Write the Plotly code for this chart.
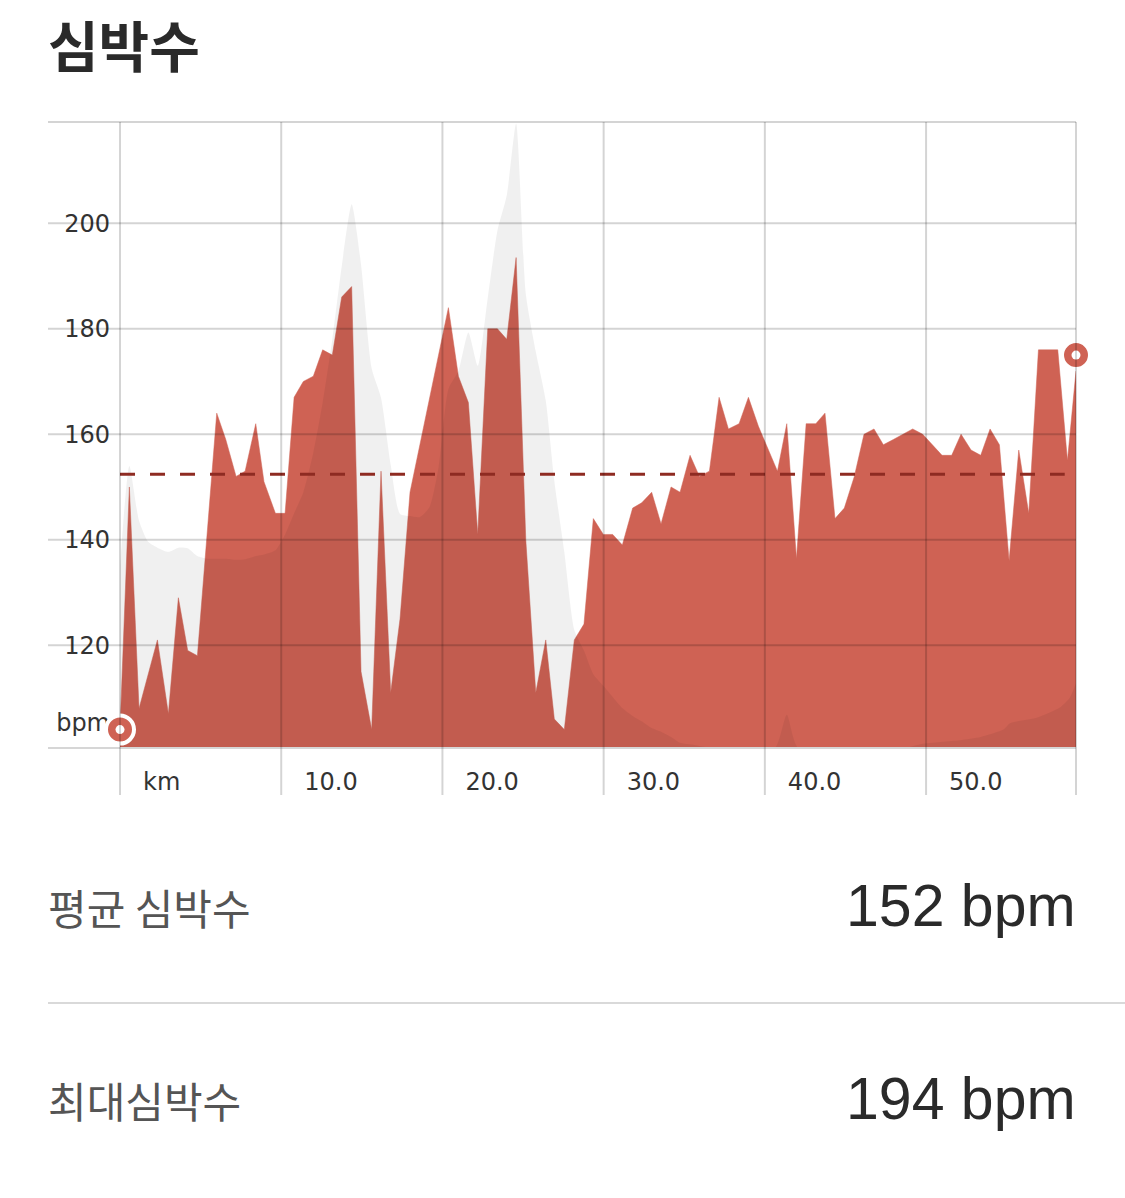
import plotly.graph_objects as go

# ---------------- data ----------------
hr_km = [0.0, 0.58, 1.18, 2.32, 3.0, 3.62, 4.2, 4.8, 6.0, 6.56, 7.2, 7.76, 8.42, 8.93,
         9.64, 10.24, 10.8, 11.37, 11.99, 12.57, 13.17, 13.75, 14.37, 14.95, 15.61, 16.19,
         16.79, 17.37, 17.99, 20.37, 20.99, 21.61, 22.19, 22.81, 23.41, 23.99, 24.57, 25.17,
         25.79, 26.41, 26.94, 27.56, 28.18, 28.78, 29.36, 29.98, 30.56, 31.16, 31.8, 32.36,
         32.98, 33.56, 34.18, 34.74, 35.36, 35.94, 36.56, 37.16, 37.74, 38.4, 38.98, 39.6,
         40.78, 41.36, 41.96, 42.56, 43.16, 43.73, 44.35, 44.93, 45.55, 46.15, 46.77, 47.35,
         47.97, 48.59, 49.17, 49.79, 50.39, 50.99, 51.59, 52.17, 52.79, 53.39, 53.97, 54.55,
         55.15, 55.75, 56.37, 56.97, 58.17, 58.77, 59.3]
hr_bpm = [104, 150, 108, 121, 107, 129, 119, 118, 164, 159, 152, 153, 162, 151,
          145, 145, 167, 170, 171, 176, 175, 186, 188, 115, 104, 153,
          111, 125, 149, 184, 171, 166, 141, 180, 180, 178, 193.5, 140,
          111, 121, 106, 104, 121, 124, 144, 141, 141, 139, 146, 147,
          149, 143, 150, 149, 156, 152, 153, 167, 161, 162, 167, 161.5,
          153, 162, 136.4, 162, 162, 164, 144, 146, 152, 160, 161, 158,
          159, 160, 161, 160, 158, 156, 156, 160, 157, 156, 161, 158,
          136, 157, 145, 176, 176, 155, 172]

elev_km = [0.0, 0.58, 1.18, 1.75, 2.32, 3.0, 3.62, 4.2, 4.8, 5.4, 6.0, 6.56, 7.2, 7.76,
           8.42, 8.93, 9.64, 10.24, 10.8, 11.37, 11.99, 12.57, 13.17, 13.75, 14.37, 14.95,
           15.61, 16.19, 16.79, 17.37, 17.99, 18.6, 19.2, 19.76, 20.37, 20.99, 21.61, 22.19,
           22.81, 23.41, 23.99, 24.57, 25.17, 25.79, 26.41, 26.94, 27.56, 28.18, 28.78,
           29.36, 29.98, 30.56, 31.16, 31.8, 32.36, 32.98, 33.56, 34.18, 34.74, 35.36,
           35.94, 36.56, 37.5, 40.6, 41.36, 42.1, 48.6, 49.79, 50.99, 52.1, 53.39, 54.8,
           55.2, 56.9, 58.3, 58.9, 59.3]
elev_level = [135, 154, 143.6, 139.6, 138.5, 137.7, 138.5, 138.4, 136.9, 136.4, 136.4, 136.4, 136.2, 136.3,
              136.9, 137.2, 138.0, 141.0, 145, 149, 156.5, 166, 178, 191.8, 203.6, 192.2,
              172.5, 166.9, 154.2, 144.9, 144.5, 144.3, 146.2, 153.8, 168.6, 172, 179.3, 173,
              185.9, 198.6, 205.3, 218.9, 186.7, 175.7, 166.4, 151.2, 137.7, 122.9, 119,
              114.5, 112.3, 110.2, 108.1, 106.6, 105.6, 104.3, 103.6, 102.6, 101.5, 101.2,
              100.9, 100.6, 100.4, 100.4, 106.8, 100.4, 100.5, 101.3, 101.7, 102.0, 102.6, 104.0,
              105.2, 106.3, 108.2, 110.0, 112.8]

avg_line_bpm = 152.4
avg_line_km = [0, 58.6]

marker_km = [0, 59.3]
marker_bpm = [104, 175]

x_ticks = [0, 10, 20, 30, 40, 50]
x_ticklabels = ["km", "10.0", "20.0", "30.0", "40.0", "50.0"]
x_grid = [0, 10, 20, 30, 40, 50]
y_ticks = [105.4, 120, 140, 160, 180, 200]
y_ticklabels = ["bpm", "120", "140", "160", "180", "200"]
y_grid = [120, 140, 160, 180, 200]

title_text = "심박수"
summary_labels = ["평균 심박수", "최대심박수"]
summary_values = [152, 194]

# ---------------- figure ----------------
X_RANGE = [-4.467, 59.3]
Y_RANGE = [100.7, 219.2]
RED = "#cf6254"
GRID = "rgba(0,0,0,0.17)"

fig = go.Figure()

fig.add_trace(go.Scatter(x=hr_km, y=hr_bpm, mode="lines", fill="tozeroy",
                         fillcolor=RED, line=dict(color=RED, width=0.5),
                         hoverinfo="skip", showlegend=False))
fig.add_trace(go.Scatter(x=elev_km, y=elev_level, mode="lines", fill="tozeroy",
                         fillcolor="rgba(0,0,0,0.06)", line=dict(width=0, shape="spline", smoothing=0.6),
                         hoverinfo="skip", showlegend=False))
fig.add_trace(go.Scatter(x=avg_line_km, y=[avg_line_bpm] * len(avg_line_km), mode="lines",
                         line=dict(color="#8e2b22", width=3, dash="15px,15px"),
                         hoverinfo="skip", showlegend=False))
fig.add_trace(go.Scatter(x=marker_km, y=marker_bpm, mode="markers", cliponaxis=False,
                         marker=dict(size=28, color=RED, line=dict(color="white", width=4)),
                         hoverinfo="skip", showlegend=False))
fig.add_trace(go.Scatter(x=marker_km, y=marker_bpm, mode="markers", cliponaxis=False,
                         marker=dict(size=9, color="white", line=dict(width=0)),
                         hoverinfo="skip", showlegend=False))

shapes = []
for g in y_grid:
    shapes.append(dict(type="line", xref="paper", yref="y", x0=0, x1=1, y0=g, y1=g,
                       line=dict(color=GRID, width=2), layer="above"))
shapes.append(dict(type="line", xref="paper", yref="paper", x0=0, x1=1, y0=1, y1=1,
                   line=dict(color=GRID, width=2), layer="above"))
for g in x_grid:
    shapes.append(dict(type="line", xref="x", yref="paper", x0=g, x1=g, y0=-0.0768, y1=1,
                       line=dict(color=GRID, width=2), layer="above"))
shapes.append(dict(type="line", xref="paper", yref="paper", x0=1, x1=1, y0=-0.0768, y1=1,
                   line=dict(color=GRID, width=2), layer="above"))
# separator between summary rows
shapes.append(dict(type="line", xref="paper", yref="paper", x0=0, x1=1.0477,
                   y0=-0.4096, y1=-0.4096, line=dict(color="#d9d9d9", width=2)))

annotations = [
    dict(text=title_text, xref="paper", yref="paper", x=-0.002, y=1.1264,
         xanchor="left", yanchor="middle", showarrow=False,
         font=dict(family="Noto Sans CJK KR", size=55, color="#2a2a2a", weight="bold")),
]
row_y = [-0.2552, -0.5632]
for lab, val, yy in zip(summary_labels, summary_values, row_y):
    annotations.append(dict(text=lab, xref="paper", yref="paper", x=-0.002, y=yy,
                            xanchor="left", yanchor="middle", showarrow=False,
                            font=dict(family="Noto Sans CJK KR", size=42, color="#555555")))
    annotations.append(dict(text=f"{val} bpm", xref="paper", yref="paper", x=1.002, y=yy,
                            xanchor="right", yanchor="middle", showarrow=False,
                            font=dict(family="Liberation Sans", size=59, color="#2a2a2a")))

fig.update_layout(
    width=1125, height=1198,
    margin=dict(l=48, r=49, t=122, b=451),
    paper_bgcolor="white", plot_bgcolor="white",
    showlegend=False,
    shapes=shapes, annotations=annotations,
    xaxis=dict(range=X_RANGE, showgrid=False, zeroline=False,
               showline=True, linecolor="#d6d6d6", linewidth=2,
               tickvals=x_ticks, ticktext=x_ticklabels, ticks="",
               ticklabelposition="outside right", ticklabelstandoff=12, ticklabelshift=22,
               tickfont=dict(family="DejaVu Sans", size=24, color="#333333")),
    yaxis=dict(range=Y_RANGE, showgrid=False, zeroline=False, showline=False,
               anchor="free", position=0.07004, layer="below traces",
               tickvals=y_ticks, ticktext=y_ticklabels, ticks="",
               ticklabelstandoff=10,
               tickfont=dict(family="DejaVu Sans", size=24, color="#333333")),
)

fig.write_html("out.html", config={"displayModeBar": False},
               post_script="document.body.style.margin='0px';")
